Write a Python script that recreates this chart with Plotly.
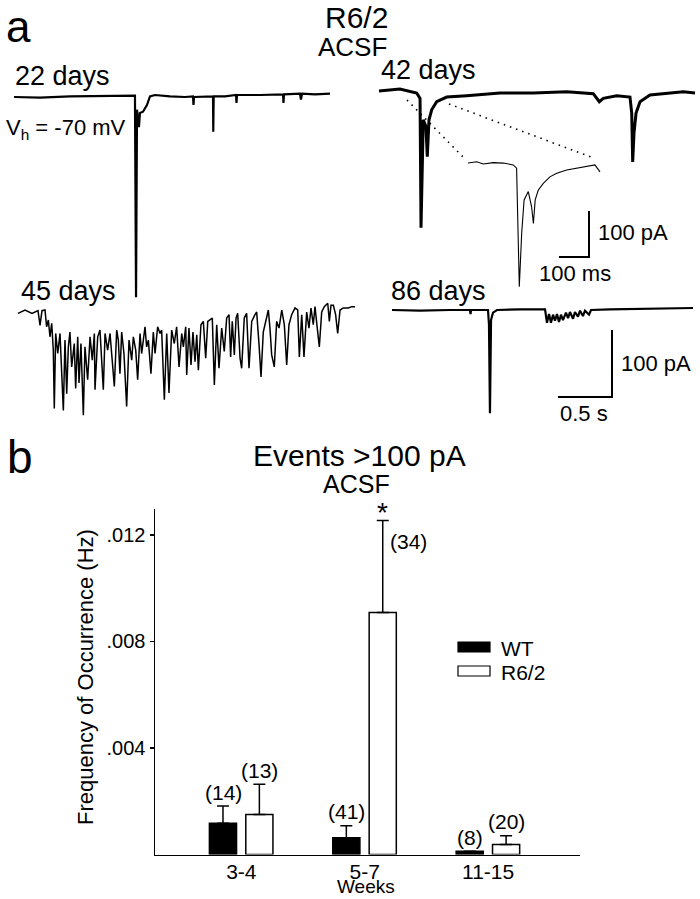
import plotly.graph_objects as go

# ---------------- data: panel a (time in ms, current in pA) ----------------
t22 = [0, 241, 519, 796, 981, 1120, 1130, 1139, 1157, 1166, 1194, 1231, 1259, 1305, 1444, 1583,
       1657, 1662, 1667, 1769, 1843, 1845, 1849, 1954, 2056, 2060, 2065, 2278, 2417, 2491, 2495,
       2500, 2648, 2657, 2667, 2787, 2926]
i22 = [0, -1, 1, 1, 1, 2, -299, -19, -45, -24, -22, -12, 1, 3, 1, 0,
       1, -12, 0, 0, 1, -52, 1, 1, 3, -9, 3, 3, 4, 4, -9,
       4, 5, -4, 5, 4, 5]

t42 = [0, 194, 349, 380, 389, 410, 435, 447, 463, 488, 534, 627, 812, 1120, 1429, 1738, 1984,
       2040, 2077, 2201, 2324, 2340, 2349, 2361, 2380, 2417, 2509, 2664, 2817, 2926]
i42 = [0, 3, -3, -11, -204, -43, -53, -98, -43, -28, -16, -9, -7, -3, -3, -1, -4,
       -16, -11, -7, -9, -33, -106, -63, -33, -16, -6, -3, -1, -3]

t42_inset = [0, 29, 51, 84, 118, 151, 162, 171, 179, 187, 201, 212, 218, 224, 234, 251, 273,
             296, 329, 362, 396, 423, 440]
i42_inset = [2, 5, 0, 3, 2, -2, -9, -267, -150, -78, -60, -93, -129, -78, -57, -42, -28,
             -20, -13, -9, -6, -2, -17]

t45 = [0, 65, 130, 185, 204, 222, 250, 265, 281, 296, 312, 327, 336, 349, 368, 389, 405, 420,
       435, 451, 466, 481, 497, 521, 534, 553, 565, 583, 605, 620, 645, 667, 688, 707, 713, 738,
       759, 775, 790, 806, 830, 852, 873, 892, 914, 929, 944, 960, 981, 1006, 1028, 1053, 1068,
       1090, 1108, 1130, 1145, 1176, 1191, 1207, 1231, 1253, 1269, 1293, 1315, 1330, 1355, 1377,
       1398, 1423, 1447, 1469, 1491, 1516, 1531, 1553, 1562, 1583, 1602, 1620, 1639, 1655, 1670,
       1694, 1716, 1738, 1757, 1778, 1799, 1818, 1840, 1861, 1886, 1910, 1932, 1954, 1969, 1984,
       2003, 2019, 2034, 2056, 2071, 2095, 2117, 2139, 2164, 2194, 2210, 2232, 2250, 2271, 2303,
       2318, 2333, 2349, 2373, 2395, 2417, 2442, 2466, 2488, 2509, 2534, 2565, 2590, 2605, 2627,
       2648, 2673, 2694, 2713, 2734, 2750, 2771, 2790, 2812, 2836, 2868, 2883, 2898, 2920, 2941,
       2960, 2982, 3012, 3059, 3090, 3121]
i45 = [-2, 3, -2, 2, -20, 2, 3, -22, -12, -37, -17, -57, -144, -32, -62, -32, -92, -147,
       -42, -122, -52, -30, -82, -47, -114, -37, -106, -47, -154, -52, -101, -37, -72, -32, -116, -37,
       -27, -72, -116, -32, -57, -32, -82, -111, -27, -42, -92, -30, -62, -141, -42, -72, -37,
       -57, -101, -32, -62, -22, -52, -42, -92, -30, -62, -22, -32, -27, -131, -32,
       -121, -27, -47, -22, -82, -32, -52, -22, -94, -24, -79, -30, -74, -34, -87,
       -19, -14, -69, -14, -12, -9, -109, -19, -84, -24, -59, -9, -4, -67, -14,
       -64, -9, -2, -69, -84, -9, -2, -84, -14, -4, 0, -49, -97, -30, -4,
       3, -24, -64, -82, -14, -24, 3, -19, -79, -19, -4, 6, 3, -67, -4,
       -67, 0, -24, 6, -19, 8, -24, -52, 0, 8, 13, -14, 10, 10, -4,
       -32, 3, 6, 6, 8, 8]

t86 = [0, 259, 537, 722, 727, 732, 889, 898, 907, 917, 935, 972, 1185, 1417, 1435, 1454, 1472,
       1491, 1509, 1528, 1546, 1565, 1583, 1611, 1630, 1648, 1676, 1694, 1722, 1741, 1768, 1787,
       1824, 1843, 2019, 2296, 2528, 2787]
i86 = [0, -1, 0, 0, -6, 0, 0, -22, -154, -15, -4, 0, 1, 1, -19, -6, -19,
       -7, -16, -6, -18, -7, -15, -4, -12, -3, -13, -3, -10, -1, -9, -1,
       -7, 0, 1, 2, 3, 3]

# scale bars (ms, pA)
sb_inset_t = [-100, 0, 0]
sb_inset_i = [0, 0, 100]
sb_main_t = [-500, 0, 0]
sb_main_i = [0, 0, 100]

# ---------------- data: panel b ----------------
weeks = ["3-4", "5-7", "11-15"]
wt_mean = [0.00117, 0.00063, 0.00012]
wt_sem = [0.00065, 0.00045, 0.0]
r62_mean = [0.00150, 0.00908, 0.00038]
r62_sem = [0.00114, 0.00346, 0.00032]
wt_n = ["(14)", "(41)", "(8)"]
r62_n = ["(13)", "(34)", "(20)"]
y_ticks = [0.004, 0.008, 0.012]
y_tick_text = [".004", ".008", ".012"]

# ---------------- layout helpers ----------------
W, H = 700, 899
FONT = "Liberation Sans, Arial, Helvetica, sans-serif"
MS_PX, PA_PX = 1000 / 108, 100 / 67          # main traces: 0.5 s = 54 px, 100 pA = 67 px
MS_PX_IN, PA_PX_IN = 100 / 30, 100 / 46      # inset: 100 ms = 30 px, 100 pA = 46 px

fig = go.Figure()
layout_axes = {}


def px(x):
    return x / W


def py(y):
    return 1 - y / H


def add_page_axes(k, ax_px, ay_px, ms_px, pa_px):
    layout_axes[f"xaxis{k}"] = dict(domain=[0, 1], range=[(0 - ax_px) * ms_px, (W - ax_px) * ms_px],
                                    visible=False, anchor=f"y{k}", fixedrange=True)
    layout_axes[f"yaxis{k}"] = dict(domain=[0, 1], range=[-(H - ay_px) * pa_px, ay_px * pa_px],
                                    visible=False, anchor=f"x{k}", fixedrange=True)
    return f"x{k}", f"y{k}"


def add_trace(t, i, k, ax_px, ay_px, ms_px, pa_px, lw):
    xa, ya = add_page_axes(k, ax_px, ay_px, ms_px, pa_px)
    fig.add_trace(go.Scatter(x=t, y=i, mode="lines", xaxis=xa, yaxis=ya, showlegend=False,
                             line=dict(color="black", width=lw, shape="linear"), hoverinfo="skip"))


add_trace(t22, i22, 2, 14, 97, MS_PX, PA_PX, 2.2)
add_trace(t42, i42, 3, 379, 91, MS_PX, PA_PX, 3.0)
add_trace(t45, i45, 4, 18, 312, MS_PX, PA_PX, 1.5)
add_trace(t86, i86, 5, 392, 310, MS_PX, PA_PX, 2.2)
add_trace(t42_inset, i42_inset, 6, 468, 164, MS_PX_IN, PA_PX_IN, 1.1)
add_trace(sb_inset_t, sb_inset_i, 7, 589, 257, MS_PX_IN, PA_PX_IN, 2.0)
add_trace(sb_main_t, sb_main_i, 8, 612, 397, MS_PX, PA_PX, 2.0)

# ---------------- panel b bars ----------------
fig.add_trace(go.Bar(x=weeks, y=wt_mean, name="WT", width=0.22, offset=-0.259,
                     marker=dict(color="black", line=dict(color="black", width=1.5)),
                     error_y=dict(type="data", symmetric=False, array=wt_sem,
                                  arrayminus=[0] * 3, color="black", thickness=1.5, width=6),
                     showlegend=False, xaxis="x", yaxis="y"))
fig.add_trace(go.Bar(x=weeks, y=r62_mean, name="R6/2", width=0.22, offset=0.036,
                     marker=dict(color="white", line=dict(color="black", width=1.5)),
                     error_y=dict(type="data", symmetric=False, array=r62_sem,
                                  arrayminus=[0] * 3, color="black", thickness=1.5, width=6),
                     showlegend=False, xaxis="x", yaxis="y"))

annotations = []


def txt(s, x, y, size, xanchor="left", **kw):
    annotations.append(dict(text=s, x=px(x), y=py(y), xref="paper", yref="paper", showarrow=False,
                            xanchor=xanchor, yanchor="middle",
                            font=dict(size=size, color="black", family=FONT), **kw))


# panel a labels
txt("a", 4, 26, 44)
txt("R6/2", 356, 18, 30, "center")
txt("ACSF", 352, 47, 26, "center")
txt("22 days", 13, 76, 27)
txt("V<sub>h</sub> = -70 mV", 4, 129, 22)
txt("42 days", 379, 70, 27)
txt("45 days", 19, 291, 27)
txt("86 days", 389, 291, 27)
txt("100 pA", 596, 233, 22)
txt("100 ms", 575, 273, 22, "center")
txt("100 pA", 619, 363, 22)
txt("0.5 s", 584, 413, 22, "center")

# panel b labels
txt("b", 5, 457, 46)
txt("Events >100 pA", 359, 455, 30, "center")
txt("ACSF", 356, 484, 25, "center")
txt("Weeks", 366, 886, 19, "center")
txt("WT", 499, 648, 21)
txt("R6/2", 499, 672, 21)
annotations.append(dict(text="Frequency of Occurrence (Hz)", x=px(85), y=py(677), xref="paper",
                        yref="paper", showarrow=False, textangle=-90, xanchor="center",
                        yanchor="middle", font=dict(size=22, color="black", family=FONT)))

# n labels above error bars
for k, w in enumerate(weeks):
    annotations.append(dict(text=wt_n[k], x=w, y=wt_mean[k] + wt_sem[k], xref="x", yref="y",
                            showarrow=False, xshift=-18, yshift=14, yanchor="middle",
                            font=dict(size=21, color="black", family=FONT)))
    if k == 1:
        annotations.append(dict(text=r62_n[k], x=w, y=r62_mean[k] + r62_sem[k], xref="x", yref="y",
                                showarrow=False, xshift=44, yshift=-21, yanchor="middle",
                                font=dict(size=21, color="black", family=FONT)))
        annotations.append(dict(text="*", x=w, y=r62_mean[k] + r62_sem[k], xref="x", yref="y",
                                showarrow=False, xshift=18, yshift=8, yanchor="middle",
                                font=dict(size=28, color="black", family=FONT)))
    else:
        annotations.append(dict(text=r62_n[k], x=w, y=r62_mean[k] + r62_sem[k], xref="x", yref="y",
                                showarrow=False, xshift=18, yshift=14, yanchor="middle",
                                font=dict(size=21, color="black", family=FONT)))

shapes = [
    # dotted connectors to inset
    dict(type="line", xref="paper", yref="paper", x0=px(407), y0=py(100), x1=px(466), y1=py(160),
         line=dict(color="black", width=1.6, dash="1.5px,5px")),
    dict(type="line", xref="paper", yref="paper", x0=px(449), y0=py(104), x1=px(591), y1=py(157),
         line=dict(color="black", width=1.6, dash="1.5px,5px")),
    # legend swatches
    dict(type="rect", xref="paper", yref="paper", x0=px(458), x1=px(490), y0=py(642), y1=py(652),
         fillcolor="black", line=dict(color="black", width=1.2)),
    dict(type="rect", xref="paper", yref="paper", x0=px(458), x1=px(490), y0=py(666), y1=py(676),
         fillcolor="white", line=dict(color="black", width=1.2)),
]

fig.update_layout(
    width=W, height=H, autosize=False,
    margin=dict(l=0, r=0, t=0, b=0),
    paper_bgcolor="white", plot_bgcolor="rgba(0,0,0,0)",
    font=dict(family=FONT, color="black"),
    barmode="group",
    xaxis=dict(domain=[px(155), px(580)], range=[-0.70, 2.745], type="category",
               categoryorder="array", categoryarray=weeks,
               showline=True, linecolor="black", linewidth=1.5, ticks="", showgrid=False,
               zeroline=False, tickfont=dict(size=21, family=FONT, color="black"), fixedrange=True,
               ticklabelstandoff=-2, anchor="y"),
    yaxis=dict(domain=[py(854.5), py(509)], range=[0, 0.01297], showline=True, linecolor="black",
               linewidth=1.5, ticks="outside", ticklen=4, tickwidth=1.5, tickcolor="black",
               tickvals=y_ticks, ticktext=y_tick_text, showgrid=False, zeroline=False,
               tickfont=dict(size=20, family=FONT, color="black"), fixedrange=True, anchor="x"),
    annotations=annotations,
    shapes=shapes,
)
fig.update_layout(**layout_axes)

fig.write_html("out.html", config={"displayModeBar": False, "staticPlot": True},
               post_script="document.body.style.margin='0px';document.body.style.overflow='hidden';")
